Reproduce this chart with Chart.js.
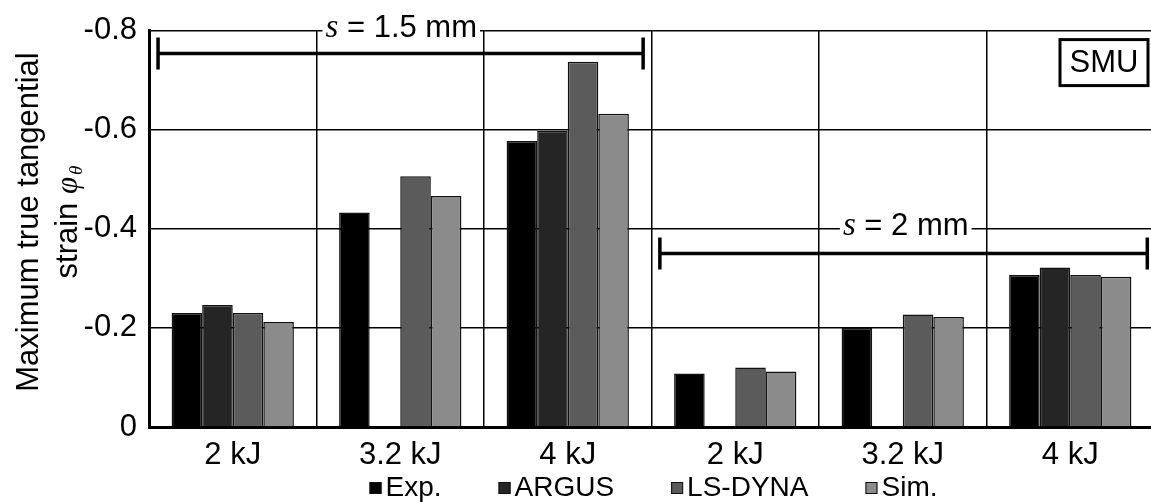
<!DOCTYPE html>
<html>
<head>
<meta charset="utf-8">
<script src="https://cdn.jsdelivr.net/npm/chart.js@4.4.1/dist/chart.umd.min.js"></script>
<style>
  html, body { margin: 0; padding: 0; background: #fff; overflow: hidden; }
  #wrap { width: 1151px; height: 502px; overflow: hidden; }
</style>
</head>
<body>
<div id="wrap"><canvas id="chart" width="1154" height="502"></canvas></div>
<script>
// data
const categories = ["2 kJ", "3.2 kJ", "4 kJ", "2 kJ", "3.2 kJ", "4 kJ"];
const seriesNames = ["Exp.", "ARGUS", "LS-DYNA", "Sim."];
const expValues = [-0.230, -0.433, -0.577, -0.108, -0.200, -0.307];
const argusValues = [-0.246, null, -0.598, null, null, -0.322];
const lsdynaValues = [-0.230, -0.506, -0.737, -0.120, -0.227, -0.307];
const simValues = [-0.212, -0.466, -0.632, -0.112, -0.222, -0.303];
const yTicks = [0, -0.2, -0.4, -0.6, -0.8];
const spacingTexts = [" = 1.5 mm", " = 2 mm"];
const badgeText = "SMU";
const titleLine1 = "Maximum true tangential";
const titleLine2 = "strain ";

const sans = "'Liberation Sans', Arial, sans-serif";
const serif = "'Liberation Serif', 'Times New Roman', serif";
const colors = ["#000000", "#252525", "#5b5b5b", "#8b8b8b"];

function bracket(ctx, x1, x2, y) {
  ctx.strokeStyle = "#000";
  ctx.lineWidth = 3.5;
  ctx.beginPath();
  ctx.moveTo(x1, y); ctx.lineTo(x2, y);
  ctx.moveTo(x1, y - 16); ctx.lineTo(x1, y + 16);
  ctx.moveTo(x2, y - 16); ctx.lineTo(x2, y + 16);
  ctx.stroke();
}

function spacingLabel(ctx, cx, lineY, rest) {
  ctx.font = "italic 33px " + serif;
  let ws = ctx.measureText("s").width;
  ctx.font = "31px " + sans;
  let wr = ctx.measureText(rest).width;
  let w = ws + wr;
  let left = cx - w / 2;
  ctx.fillStyle = "#fff";
  ctx.fillRect(left - 3, lineY - 3, w + 6, 6);
  ctx.fillStyle = "#000";
  ctx.textAlign = "left";
  ctx.textBaseline = "alphabetic";
  ctx.font = "italic 33px " + serif;
  ctx.fillText("s", left, lineY + 6);
  ctx.font = "31px " + sans;
  ctx.fillText(rest, left + ws, lineY + 6);
}

const overlay = {
  id: "overlay",
  afterDraw(chart) {
    const ctx = chart.ctx;
    const x = chart.scales.x, y = chart.scales.y;
    const area = chart.chartArea;
    const catW = x.getPixelForValue(1) - x.getPixelForValue(0);
    ctx.save();

    // spacing brackets
    bracket(ctx, x.getPixelForValue(0) - 0.446 * catW, x.getPixelForValue(2) + 0.45 * catW, y.getPixelForValue(-0.754));
    bracket(ctx, x.getPixelForValue(3) - 0.45 * catW, x.getPixelForValue(5) + 0.46 * catW, y.getPixelForValue(-0.35));
    spacingLabel(ctx, x.getPixelForValue(1) + 1, y.getPixelForValue(-0.8), spacingTexts[0]);
    spacingLabel(ctx, x.getPixelForValue(4) + 3, y.getPixelForValue(-0.4), spacingTexts[1]);

    // SMU badge
    ctx.fillStyle = "#fff";
    ctx.fillRect(area.right - 94, area.top + 9, 88, 46);
    ctx.strokeStyle = "#000";
    ctx.lineWidth = 3;
    ctx.strokeRect(area.right - 94, area.top + 9, 88, 46);
    ctx.fillStyle = "#000";
    ctx.font = "31px " + sans;
    ctx.textAlign = "center";
    ctx.textBaseline = "middle";
    ctx.fillText(badgeText, area.right - 50, area.top + 33);

    // y axis title, two lines, rotated
    ctx.save();
    ctx.translate(38, 222);
    ctx.rotate(-Math.PI / 2);
    ctx.textBaseline = "alphabetic";
    ctx.textAlign = "center";
    ctx.font = "31px " + sans;
    ctx.fillText(titleLine1, 0, 0);
    ctx.restore();

    ctx.save();
    ctx.translate(77, 222);
    ctx.rotate(-Math.PI / 2);
    ctx.textBaseline = "alphabetic";
    ctx.textAlign = "left";
    ctx.font = "31px " + sans;
    let w1 = ctx.measureText(titleLine2).width;
    ctx.font = "italic 31px " + serif;
    let w2 = ctx.measureText("\u03c6").width;
    ctx.font = "italic 19px " + serif;
    let w3 = ctx.measureText("\u03b8").width;
    let start = -(w1 + w2 + 2 + w3) / 2;
    ctx.font = "31px " + sans;
    ctx.fillText(titleLine2, start, 0);
    ctx.font = "italic 31px " + serif;
    ctx.fillText("\u03c6", start + w1, 0);
    ctx.font = "italic 19px " + serif;
    ctx.fillText("\u03b8", start + w1 + w2 + 2, 5);
    ctx.restore();

    // legend
    ctx.font = "28px " + sans;
    ctx.textAlign = "left";
    ctx.textBaseline = "middle";
    const box = 12, gap = 4, spacing = 57, legY = 488;
    let items = chart.data.datasets.map(d => ({ label: d.label, color: d.backgroundColor, w: ctx.measureText(d.label).width }));
    let total = items.reduce((s, it) => s + box + gap + it.w, 0) + spacing * (items.length - 1);
    let lx = (area.left + area.right) / 2 - total / 2 + 2;
    items.forEach(it => {
      ctx.fillStyle = it.color;
      ctx.fillRect(lx, legY - box / 2, box, box);
      ctx.strokeStyle = "#111";
      ctx.lineWidth = 1;
      ctx.strokeRect(lx + 0.5, legY - box / 2 + 0.5, box - 1, box - 1);
      ctx.fillStyle = "#000";
      ctx.fillText(it.label, lx + box + gap, legY);
      lx += box + gap + it.w + spacing;
    });

    ctx.restore();
  }
};

const values = [expValues, argusValues, lsdynaValues, simValues];

new Chart(document.getElementById("chart").getContext("2d"), {
  type: "bar",
  data: {
    labels: categories,
    datasets: seriesNames.map((name, i) => ({
      label: name,
      data: values[i],
      backgroundColor: colors[i],
      borderColor: "#111",
      borderWidth: 1.5,
      categoryPercentage: 0.73,
      barPercentage: 1.0
    }))
  },
  options: {
    responsive: false,
    devicePixelRatio: 1,
    animation: false,
    layout: { padding: { top: 27, left: 0, right: 0, bottom: 0 } },
    plugins: {
      legend: { display: false },
      tooltip: { enabled: false }
    },
    scales: {
      x: {
        offset: true,
        grid: { offset: true, color: "#000", lineWidth: 1.5, drawTicks: false },
        border: { color: "#000", width: 3 },
        ticks: { color: "#000", font: { family: sans, size: 31 }, padding: 10, maxRotation: 0 },
        afterFit(scale) { scale.height = 75; }
      },
      y: {
        min: -0.8,
        max: 0,
        reverse: true,
        grid: { color: "#000", lineWidth: 1.5, drawTicks: false },
        border: { color: "#000", width: 3 },
        afterBuildTicks(scale) { scale.ticks = yTicks.map(v => ({ value: v })); },
        ticks: {
          color: "#000",
          font: { family: sans, size: 31 },
          padding: 12,
          callback: v => String(v)
        },
        afterFit(scale) { scale.width = 149; }
      }
    }
  },
  plugins: [overlay]
});
</script>
</body>
</html>
